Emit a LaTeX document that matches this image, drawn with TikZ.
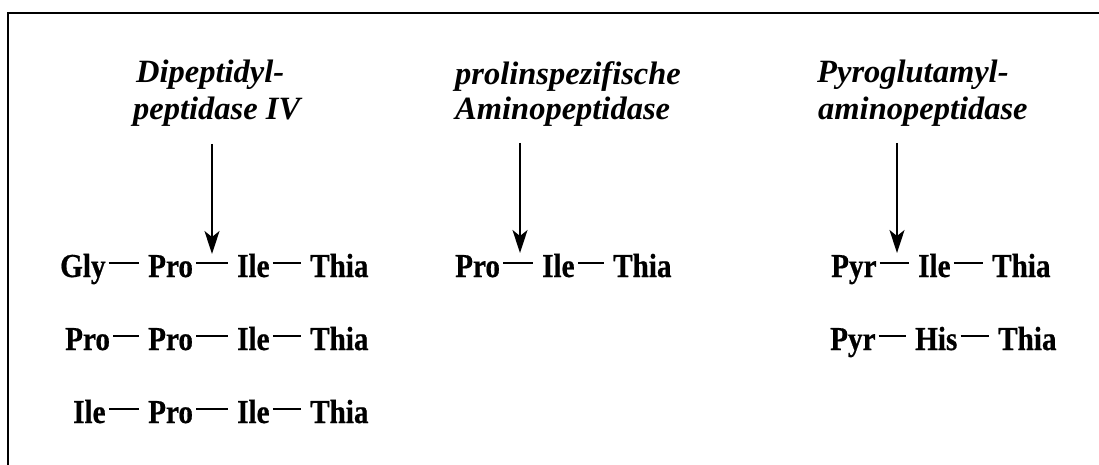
\documentclass[tikz,border=0pt]{standalone}
\usepackage{fontspec}
\setmainfont{Liberation Serif}
\newfontfamily\resfont[FakeStretch=0.87,BoldFeatures={FakeBold=0.6}]{Liberation Serif}
\usetikzlibrary{arrows.meta}
\tikzset{
  res/.style={anchor=base west, inner sep=0pt, font=\resfont\bfseries\fontsize{33.5}{33.5}\selectfont},
  lab/.style={anchor=base west, inner sep=0pt, font=\bfseries\itshape\fontsize{32.5}{37}\selectfont},
  bond/.style={line width=2.2pt},
  cut/.style={line width=1.7pt, -{Stealth[length=23pt,width=15pt,inset=6pt]}},
  frame/.style={line width=2pt}
}
\newcommand{\bondline}[2]{\draw[bond] ([xshift=3pt,yshift=14pt]#1.base east) -- ([xshift=-9pt,yshift=14pt]#2.base west);}
\begin{document}
\begin{tikzpicture}[x=1pt,y=-1pt]
\useasboundingbox (0,0) rectangle (1099,465);
% frame
\coordinate (fr) at (1099,13);
\coordinate (fc) at (8,13);
\coordinate (fb) at (8,466);
\draw[frame] (fr) -- (fc) -- (fb);

% enzyme labels
\node[lab] (l1a) at (136,83) {Dipeptidyl-};
\node[lab] (l1b) at (133,120) {peptidase IV};
\node[lab] (l2a) at (455,85) {prolinspezifische};
\node[lab] (l2b) at (455,120) {Aminopeptidase};
\node[lab] (l3a) at (817,83) {Pyroglutamyl-};
\node[lab] (l3b) at (818,120) {aminopeptidase};

% arrows
\coordinate (a1s) at (212,144);
\coordinate (a1e) at (212,254);
\coordinate (a2s) at (520,143);
\coordinate (a2e) at (520,253);
\coordinate (a3s) at (897,143);
\coordinate (a3e) at (897,253);
\draw[cut] (a1s) -- (a1e);
\draw[cut] (a2s) -- (a2e);
\draw[cut] (a3s) -- (a3e);

% left column
\node[res] (r1a) at (60,277) {Gly};
\node[res] (r1b) at (148,277) {Pro};
\node[res] (r1c) at (237,277) {Ile};
\node[res] (r1d) at (310,277) {Thia};
\node[res] (r2a) at (65,350) {Pro};
\node[res] (r2b) at (148,350) {Pro};
\node[res] (r2c) at (237,350) {Ile};
\node[res] (r2d) at (310,350) {Thia};
\node[res] (r3a) at (73,423) {Ile};
\node[res] (r3b) at (148,423) {Pro};
\node[res] (r3c) at (237,423) {Ile};
\node[res] (r3d) at (310,423) {Thia};
\bondline{r1a}{r1b}\bondline{r1b}{r1c}\bondline{r1c}{r1d}
\bondline{r2a}{r2b}\bondline{r2b}{r2c}\bondline{r2c}{r2d}
\bondline{r3a}{r3b}\bondline{r3b}{r3c}\bondline{r3c}{r3d}

% middle
\node[res] (m1a) at (455,277) {Pro};
\node[res] (m1b) at (542,277) {Ile};
\node[res] (m1c) at (613,277) {Thia};
\bondline{m1a}{m1b}\bondline{m1b}{m1c}

% right
\node[res] (p1a) at (831,277) {Pyr};
\node[res] (p1b) at (918,277) {Ile};
\node[res] (p1c) at (992,277) {Thia};
\node[res] (p2a) at (830,350) {Pyr};
\node[res] (p2b) at (915,350) {His};
\node[res] (p2c) at (998,350) {Thia};
\bondline{p1a}{p1b}\bondline{p1b}{p1c}
\bondline{p2a}{p2b}\bondline{p2b}{p2c}
\end{tikzpicture}
\end{document}
